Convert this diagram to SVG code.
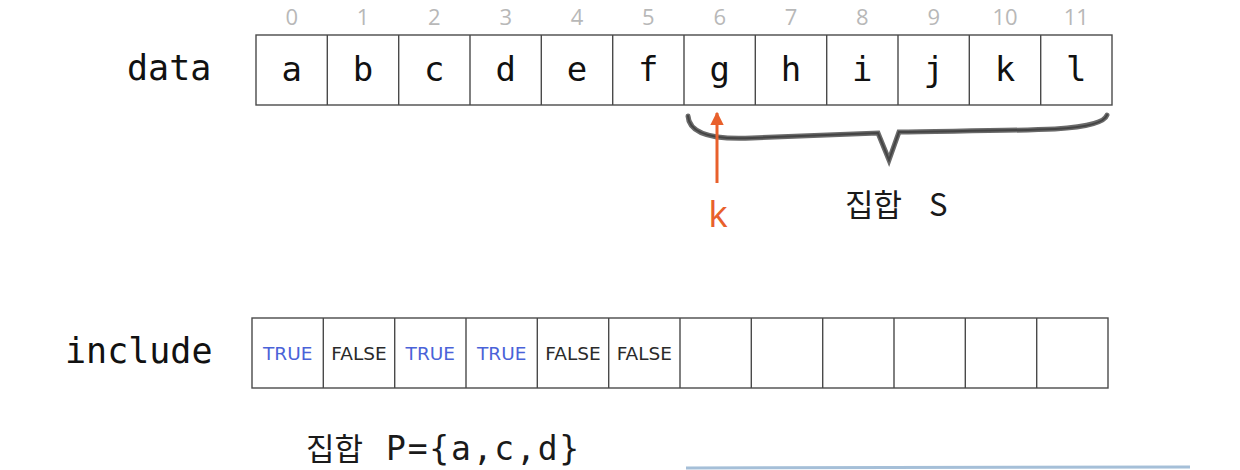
<svg xmlns="http://www.w3.org/2000/svg" width="1240" height="470" viewBox="0 0 1240 470">
<style>
.cell{fill:#fff;stroke:#4a4a4a;stroke-width:1.4}
.mono{font-family:"DejaVu Sans Mono","Liberation Mono",monospace;fill:#111}
.val{font-family:"DejaVu Sans Mono",monospace;font-size:34px;fill:#111;text-anchor:middle}
.idx{font-family:"Open Sans","DejaVu Sans",sans-serif;font-size:22px;fill:#b8b8b8;text-anchor:middle}
.tf{font-family:"DejaVu Sans","Liberation Sans",sans-serif;font-size:18.5px;text-anchor:middle}
.t{fill:#4a62d8}
.f{fill:#2a2a2a}
.kor{font-family:"Noto Sans CJK KR","DejaVu Sans Mono",sans-serif;fill:#1a1a1a}
</style>
<defs>
<marker id="ah" viewBox="0 0 10 10" refX="9" refY="5" markerWidth="4.5" markerHeight="4.5" orient="auto" markerUnits="strokeWidth">
<path d="M0,0 L10,5 L0,10 z" fill="#e8602c"/>
</marker>
</defs>
<rect width="1240" height="470" fill="#fff"/>

<g id="data-label"><text class="mono" x="127" y="80" font-size="35">data</text></g>

<g id="data-array">
<rect class="cell" x="256" y="35" width="856" height="70"/>
<path d="M327.3,35V105M398.7,35V105M470,35V105M541.3,35V105M612.7,35V105M684,35V105M755.3,35V105M826.7,35V105M898,35V105M969.3,35V105M1040.7,35V105" stroke="#4a4a4a" stroke-width="1.4" fill="none"/>
<text class="val" y="81"><tspan x="291.7">a</tspan><tspan x="363">b</tspan><tspan x="434.3">c</tspan><tspan x="505.7">d</tspan><tspan x="577">e</tspan><tspan x="648.3">f</tspan><tspan x="719.7">g</tspan><tspan x="791">h</tspan><tspan x="862.3">i</tspan><tspan x="933.7">j</tspan><tspan x="1005">k</tspan><tspan x="1076.3">l</tspan></text>
<text class="idx" y="25"><tspan x="291.7">0</tspan><tspan x="363">1</tspan><tspan x="434.3">2</tspan><tspan x="505.7">3</tspan><tspan x="577">4</tspan><tspan x="648.3">5</tspan><tspan x="719.7">6</tspan><tspan x="791">7</tspan><tspan x="862.3">8</tspan><tspan x="933.7">9</tspan><tspan x="1005">10</tspan><tspan x="1076.3">11</tspan></text>
</g>

<g id="brace-S">
<path d="M688,116 C689,133 712,140 752,138 C810,136 860,134 878,133 L889,160 L899,132 C940,131 1010,131 1055,129 C1092,127 1105,121 1107,115" fill="none" stroke="#6a6a6a" stroke-width="5" stroke-linejoin="miter" stroke-linecap="round"/>
<path d="M688,116 C689,133 712,140 752,138 C810,136 860,134 878,133 L889,160 L899,132 C940,131 1010,131 1055,129 C1092,127 1105,121 1107,115" fill="none" stroke="#444" stroke-width="2" stroke-linecap="round"/>
<text class="kor" x="845" y="216" font-size="31" xml:space="preserve">집합<tspan x="929">S</tspan></text>
</g>

<g id="k-pointer">
<text x="718" y="227" font-family="Open Sans,DejaVu Sans,sans-serif" font-size="37" fill="#e8602c" text-anchor="middle">k</text>
</g>

<g id="connectors">
<line x1="717" y1="183" x2="717" y2="113" stroke="#e8602c" stroke-width="3" marker-end="url(#ah)"/>
</g>

<g id="include-label"><text class="mono" x="65" y="363" font-size="35">include</text></g>

<g id="include-array">
<rect class="cell" x="252" y="318" width="856" height="70"/>
<path d="M323.3,318V388M394.7,318V388M466,318V388M537.3,318V388M608.7,318V388M680,318V388M751.3,318V388M822.7,318V388M894,318V388M965.3,318V388M1036.7,318V388" stroke="#4a4a4a" stroke-width="1.4" fill="none"/>
<text class="tf t" x="287.7" y="360">TRUE</text>
<text class="tf f" x="359" y="360">FALSE</text>
<text class="tf t" x="430.3" y="360">TRUE</text>
<text class="tf t" x="501.7" y="360">TRUE</text>
<text class="tf f" x="573" y="360">FALSE</text>
<text class="tf f" x="644.3" y="360">FALSE</text>
</g>

<g id="set-P">
<text class="kor" x="306" y="460" font-size="31" xml:space="preserve">집합 <tspan x="386" font-family="DejaVu Sans Mono,monospace" font-size="33" letter-spacing="1.8">P={a,c,d}</tspan></text>
</g>

<line x1="686" y1="468" x2="1190" y2="467" stroke="#8fb0cf" stroke-width="3" opacity="0.8"/>
</svg>
